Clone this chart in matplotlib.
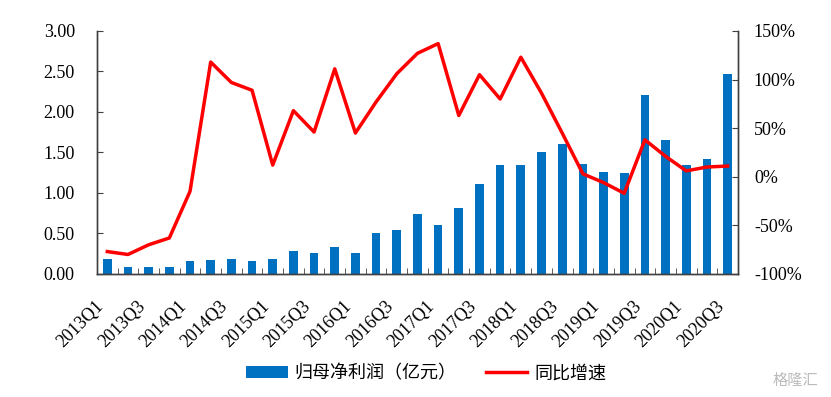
import matplotlib
matplotlib.use('Agg')
import matplotlib.pyplot as plt
import matplotlib.transforms as mtransforms
import numpy as np
from matplotlib.ticker import FuncFormatter, FixedLocator


#quarters and values
quarters = [f'{y}Q{q}' for y in range(2013, 2021) for q in range(1, 5)][:31]
profit = [0.18, 0.08, 0.09, 0.08, 0.16, 0.17, 0.18, 0.16, 0.18, 0.28,
          0.26, 0.33, 0.26, 0.50, 0.54, 0.74, 0.60, 0.81, 1.11, 1.34,
          1.35, 1.50, 1.61, 1.36, 1.26, 1.25, 2.21, 1.65, 1.34, 1.42, 2.47]
growth = [-77, -80, -70, -63, -15, 118, 97, 89, 12, 68,
          46, 111, 45, 77, 106, 127, 137, 63, 105, 80,
          123, 86, 45, 3, -6, -17, 38, 21, 6, 10, 11]

serif = 'Liberation Serif'
cjk = ['Noto Sans CJK SC', 'DejaVu Sans']

fig = plt.figure(figsize=(8.31, 3.97), dpi=100)
ax = fig.add_axes([0.1167, 0.310, 0.7713, 0.612])
ax2 = ax.twinx()

x = np.arange(len(quarters))
bars = ax.bar(x, profit, width=0.42, color='#0070C0', zorder=2)
line, = ax2.plot(x, growth, color='#FF0000', lw=2.5, zorder=3)

ax.set_xlim(-0.5, len(quarters) - 0.5)
ax.set_ylim(0, 3.0)
ax.set_yticks(np.arange(0, 3.01, 0.5))
ax.yaxis.set_major_formatter(FuncFormatter(lambda v, p: f'{v:.2f}'))
ax2.set_ylim(-100, 150)
ax2.set_yticks(np.arange(-100, 151, 50))
ax2.yaxis.set_major_formatter(FuncFormatter(lambda v, p: f'{v:.0f}%'))

#labels every other quarter, little ticks between every bar
ax.set_xticks(x[::2])
ax.set_xticklabels(quarters[::2], rotation=45, ha='right', fontfamily=serif, fontsize=13)
shift = mtransforms.ScaledTranslation(5 / 100, 0, fig.dpi_scale_trans)
for lab in ax.get_xticklabels():
    lab.set_transform(lab.get_transform() + shift)
ax.xaxis.set_minor_locator(FixedLocator(np.arange(-0.5, len(quarters), 1)))
ax.tick_params(axis='x', which='major', length=0, pad=17)
ax.tick_params(axis='x', which='minor', direction='in', length=4, color='#404040')
ax.tick_params(axis='y', direction='in', length=4, color='#404040', labelsize=13, pad=16)
ax2.tick_params(axis='y', direction='in', length=4, color='#404040', labelsize=13, pad=11.5)
for lab in ax.get_yticklabels() + ax2.get_yticklabels():
    lab.set_fontfamily(serif)

for a in (ax, ax2):
    a.spines['top'].set_visible(False)
    for s in ('left', 'right', 'bottom'):
        a.spines[s].set_color('#404040')
        a.spines[s].set_linewidth(1.0)

fig.legend([bars, line], ['归母净利润（亿元）', '同比增速'], loc='center',
           bbox_to_anchor=(0.513, 0.06), ncol=2, frameon=False,
           prop={'family': cjk, 'size': 13}, handlelength=2.3,
           columnspacing=1.6, handletextpad=0.4)

fig.text(0.985, 0.02, '格隆汇', ha='right', va='bottom', color='#bbbbbb',
         fontsize=11, family=cjk)

fig.savefig('out.png', dpi=100)
